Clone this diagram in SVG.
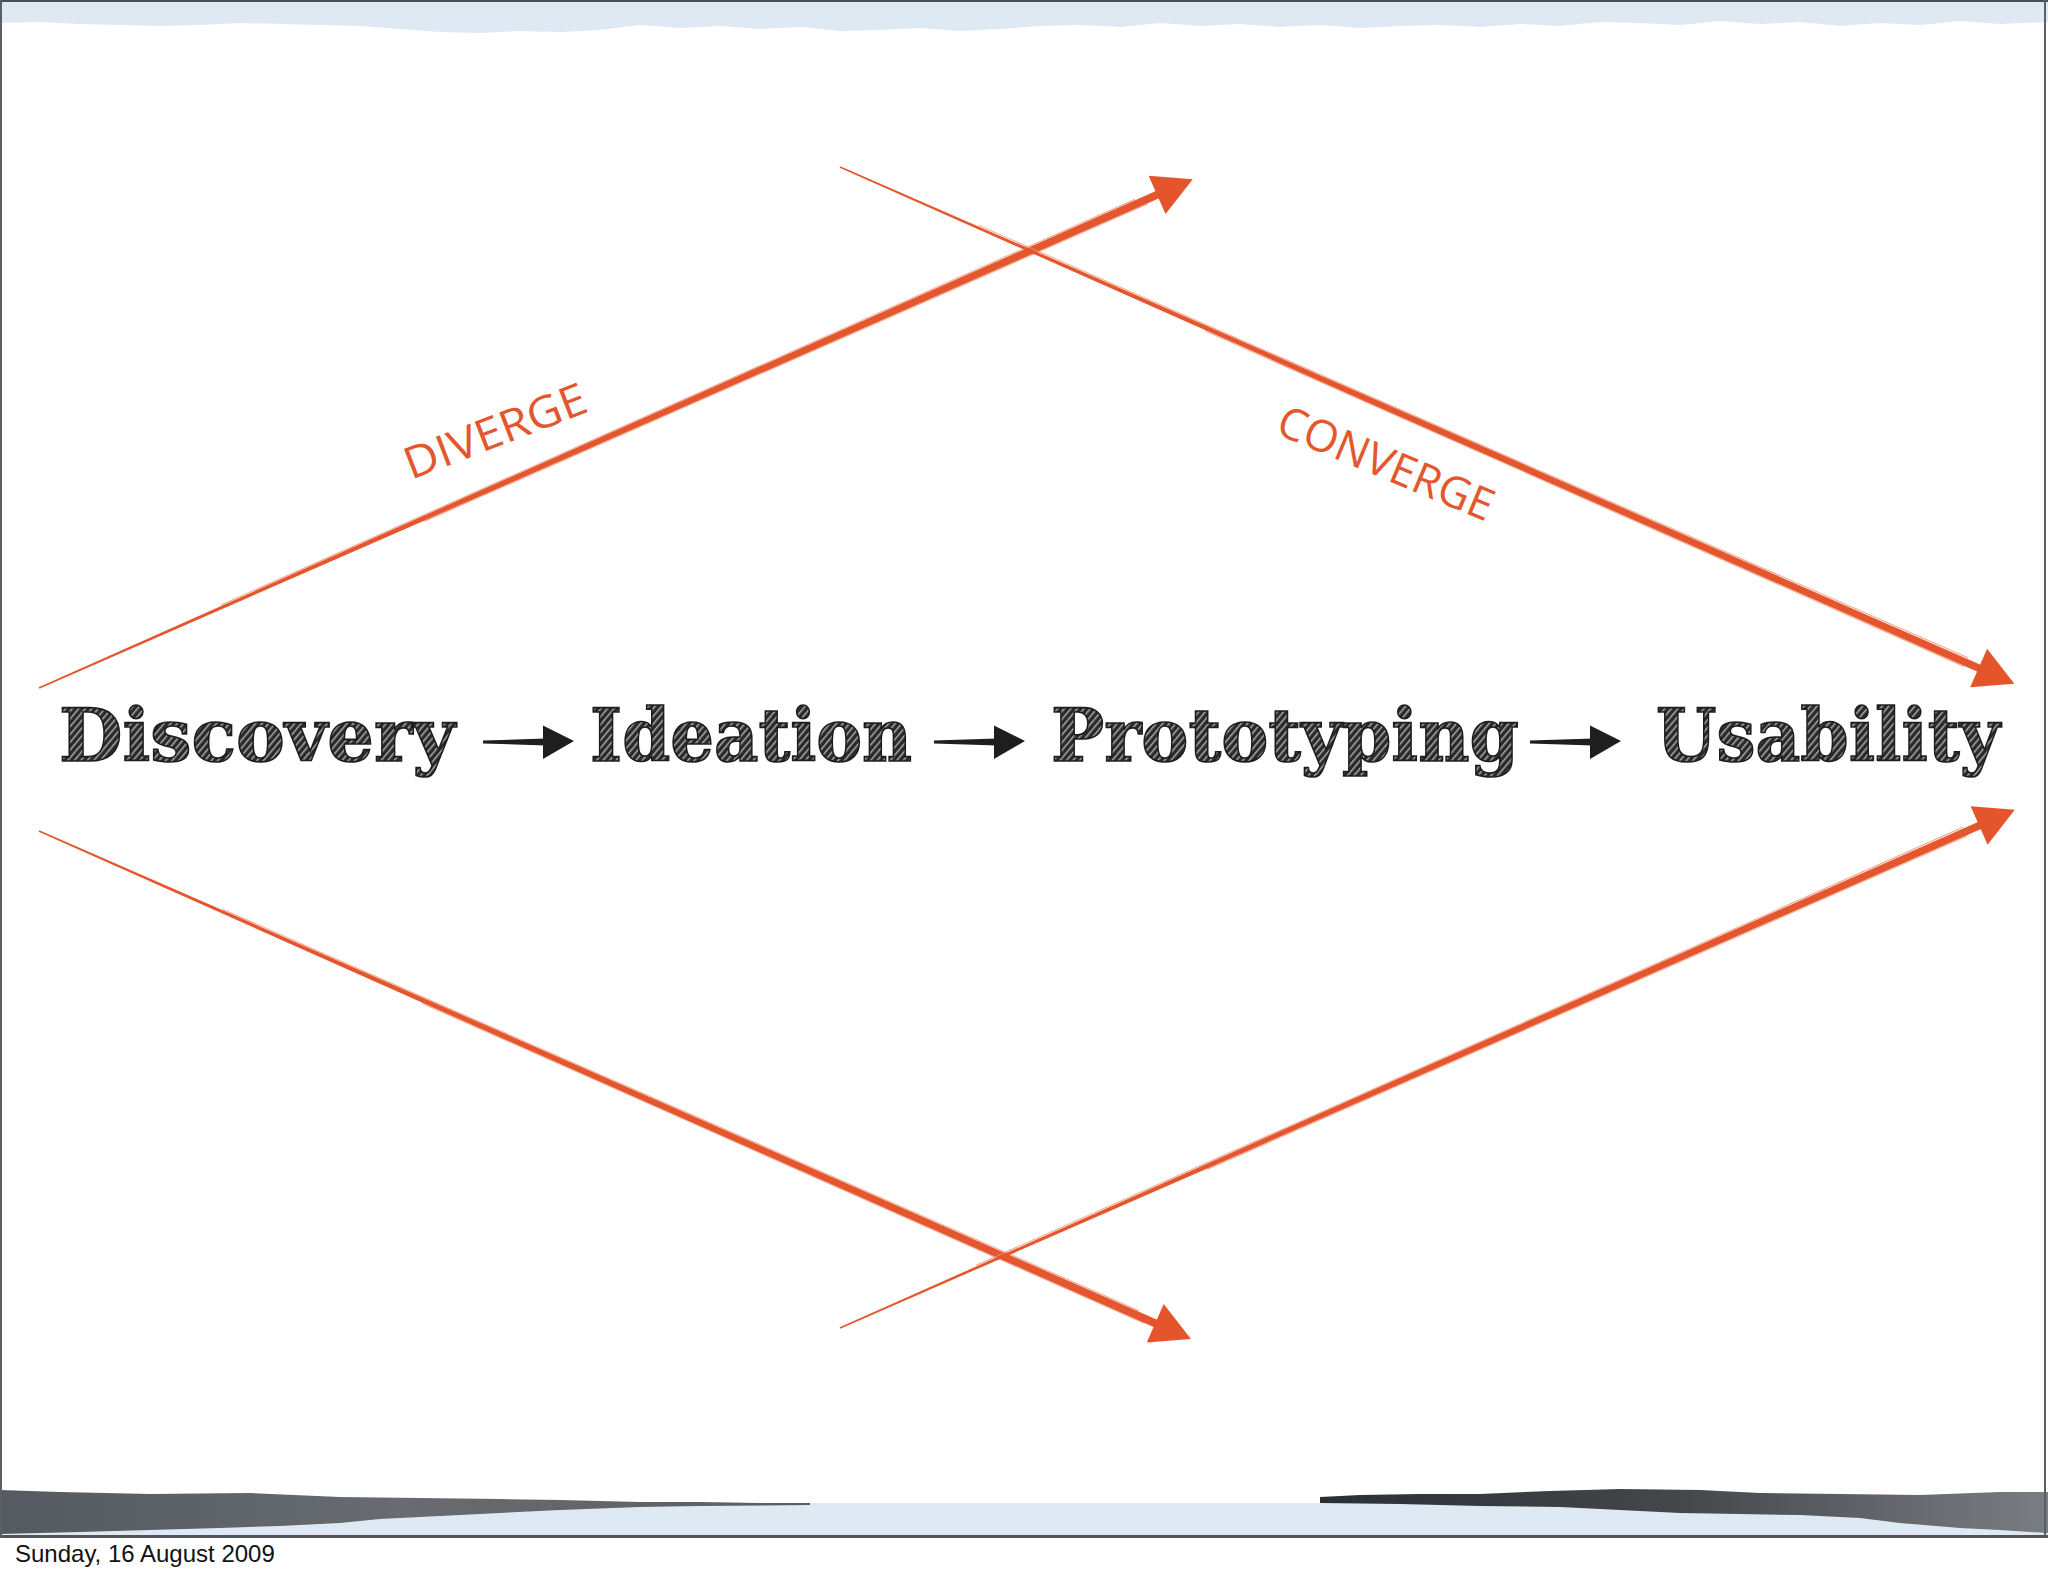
<svg xmlns="http://www.w3.org/2000/svg" xmlns:xlink="http://www.w3.org/1999/xlink" width="2048" height="1576" viewBox="0 0 2048 1576">
<defs>
<pattern id="hatch" width="5" height="5" patternUnits="userSpaceOnUse" patternTransform="rotate(-50)">
<rect width="5" height="5" fill="#2a2a2a"/>
<rect width="5" height="1.5" fill="#a8a8a8"/>
</pattern>
<linearGradient id="gl" x1="0" y1="0" x2="810" y2="0" gradientUnits="userSpaceOnUse">
<stop offset="0" stop-color="#555a60"/><stop offset="0.5" stop-color="#686c71"/><stop offset="1" stop-color="#5a5e63"/>
</linearGradient>
<linearGradient id="gr" x1="1320" y1="0" x2="2048" y2="0" gradientUnits="userSpaceOnUse">
<stop offset="0" stop-color="#2c2f32"/><stop offset="0.5" stop-color="#44484c"/><stop offset="1" stop-color="#7a7e83"/>
</linearGradient>
<polygon id="ohead" points="2,0 -37,-21 -37,21"/>
<g id="flow">
<path d="M0,-1.5 L63,-3.5 L63,3.5 L0,1.5 Z"/>
<polygon points="60,-16.5 91,-1 60,17"/>
</g>
<style>
.word{font-family:"DejaVu Serif","Liberation Serif",serif;font-weight:bold;font-size:73px;fill:url(#hatch);stroke:#1c1c1c;stroke-width:1.6px}
.flow{fill:#1e1e1e}
.oline{fill:#e4572e}
.osk{stroke:#f08c6c;stroke-width:1;fill:none;opacity:0.8}
.ohead{fill:#e4552b}
.olab{font-family:"Open Sans","DejaVu Sans",sans-serif;font-size:44px;fill:#e4572e}
.foot{font-family:"Liberation Sans",Arial,sans-serif;font-size:24px;fill:#111}
</style>
</defs>
<rect width="2048" height="1576" fill="#ffffff"/>
<g id="frame">
<path fill="#dfe9f4" d="M0,0 H2048 V22 L2000,24 L1960,21 L1920,25 L1880,23 L1840,26 L1800,22 L1760,24 L1720,21 L1680,25 L1640,23 L1600,22 L1560,26 L1520,24 L1480,27 L1440,25 L1400,26 L1360,28 L1320,25 L1280,27 L1240,24 L1200,26 L1160,23 L1120,27 L1080,25 L1040,26 L1000,29 L960,31 L920,28 L880,30 L840,31 L800,27 L760,29 L720,26 L680,28 L640,25 L600,30 L560,32 L520,31 L480,33 L440,32 L400,29 L360,26 L320,25 L280,24 L240,23 L200,25 L160,26 L120,25 L80,24 L40,22 L0,23 Z"/>
<rect x="0" y="1503" width="2048" height="33" fill="#dfe9f4"/>
<path fill="url(#gl)" d="M0,1490 L60,1492 L150,1494 L250,1493 L340,1497 L420,1498 L500,1499 L560,1500 L640,1502 L700,1502 L760,1503 L810,1503 L810,1505 L700,1506 L640,1507 L560,1510 L500,1513 L440,1516 L380,1519 L340,1523 L280,1526 L220,1528 L150,1530 L80,1532 L0,1534 Z"/>
<path fill="url(#gr)" d="M1320,1497 L1360,1495 L1420,1494 L1480,1494 L1550,1491 L1620,1489 L1700,1490 L1760,1493 L1840,1494 L1920,1495 L2000,1492 L2048,1492 L2048,1533 L2000,1530 L1960,1528 L1900,1523 L1860,1518 L1800,1515 L1740,1514 L1680,1513 L1620,1510 L1560,1507 L1480,1506 L1400,1504 L1320,1503 Z"/>
<rect x="0" y="0" width="2048" height="2" fill="#4a4f57"/>
<rect x="0" y="1535" width="2048" height="3" fill="#50555c"/>
<rect x="0" y="0" width="2" height="1537" fill="#5a5f66"/>
<rect x="2044" y="0" width="2" height="1537" fill="#5a5f66"/>
<text class="foot" x="15" y="1562">Sunday, 16 August 2009</text>
</g>
<g id="connectors">
<g transform="translate(39,688) rotate(-23.8)">
<path class="oline" d="M0,-0.9 L600,-3 L1228,-4 L1228,4 L600,3 L0,0.9 Z"/>
<path class="osk" d="M200,-2.5 L1200,-5 M420,3 L1210,4.5"/>
<use href="#ohead" class="ohead" x="1259" y="0"/>
</g>
<g transform="translate(39,831) rotate(23.8)">
<path class="oline" d="M0,-0.9 L600,-3 L1226,-4 L1226,4 L600,3 L0,0.9 Z"/>
<path class="osk" d="M200,-2.5 L1200,-5 M420,3 L1210,4.5"/>
<use href="#ohead" class="ohead" x="1257" y="0"/>
</g>
<g transform="translate(840,167) rotate(23.75)">
<path class="oline" d="M0,-0.8 L600,-3 L1250,-3.8 L1250,3.8 L600,3 L0,0.8 Z"/>
<path class="osk" d="M150,-2.5 L1230,-5 M400,3 L1230,4.5"/>
<use href="#ohead" class="ohead" x="1281" y="0"/>
</g>
<g transform="translate(840,1328) rotate(-23.8)">
<path class="oline" d="M0,-0.8 L600,-3 L1251,-3.8 L1251,3.8 L600,3 L0,0.8 Z"/>
<path class="osk" d="M150,-2.5 L1230,-5 M400,3 L1230,4.5"/>
<use href="#ohead" class="ohead" x="1282" y="0"/>
</g>
<text class="olab" transform="translate(411,480) rotate(-21)" textLength="192" lengthAdjust="spacingAndGlyphs">DIVERGE</text>
<text class="olab" transform="translate(1274,433) rotate(22.7)" textLength="230" lengthAdjust="spacingAndGlyphs">CONVERGE</text>
<use href="#flow" class="flow" x="483" y="742"/>
<use href="#flow" class="flow" x="934" y="742"/>
<use href="#flow" class="flow" x="1530" y="742"/>
</g>
<g id="node-discovery"><text class="word" x="59" y="761" textLength="396" lengthAdjust="spacingAndGlyphs">Discovery</text></g>
<g id="node-ideation"><text class="word" x="590" y="761" textLength="322" lengthAdjust="spacingAndGlyphs">Ideation</text></g>
<g id="node-prototyping"><text class="word" x="1051" y="761" textLength="468" lengthAdjust="spacingAndGlyphs">Prototyping</text></g>
<g id="node-usability"><text class="word" x="1656" y="761" textLength="344" lengthAdjust="spacingAndGlyphs">Usability</text></g>
</svg>
